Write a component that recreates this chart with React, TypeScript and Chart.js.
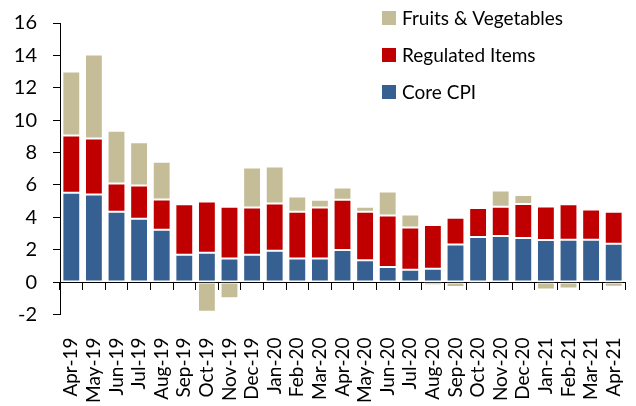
import React, { useEffect, useRef } from "react";
import { Chart, registerables } from "chart.js";

Chart.register(...registerables);

const categories = [
  "Apr-19", "May-19", "Jun-19", "Jul-19", "Aug-19", "Sep-19", "Oct-19", "Nov-19", "Dec-19",
  "Jan-20", "Feb-20", "Mar-20", "Apr-20", "May-20", "Jun-20", "Jul-20", "Aug-20", "Sep-20",
  "Oct-20", "Nov-20", "Dec-20", "Jan-21", "Feb-21", "Mar-21", "Apr-21",
];

const coreCPI = [5.52, 5.41, 4.35, 3.91, 3.23, 1.69, 1.81, 1.46, 1.69, 1.94, 1.46, 1.46, 1.98, 1.35, 0.93, 0.77, 0.83, 2.33, 2.78, 2.84, 2.72, 2.6, 2.62, 2.62, 2.37];
const regulatedItems = [3.54, 3.46, 1.74, 2.06, 1.87, 3.12, 3.17, 3.19, 2.92, 2.92, 2.89, 3.15, 3.1, 3.0, 3.18, 2.6, 2.69, 1.64, 1.8, 1.81, 2.11, 2.07, 2.19, 1.86, 1.97];
const fruitsVeg = [3.94, 5.18, 3.26, 2.67, 2.33, 0, -1.83, -1.0, 2.47, 2.28, 0.94, 0.48, 0.76, 0.3, 1.48, 0.8, -0.2, -0.3, -0.1, 1.0, 0.55, -0.45, -0.4, 0, -0.28];

const yTicks = [-2, 0, 2, 4, 6, 8, 10, 12, 14, 16];

const COLOR_CORE = "#376092";
const COLOR_REG = "#C00000";
const COLOR_FRUIT = "#C4BD97";

const FONT = "Lato, 'Liberation Sans', sans-serif";

const legendPlugin = {
  id: "customLegend",
  afterDraw(chart: any) {
    const ctx = chart.ctx;
    const items = [
      { label: "Fruits & Vegetables", color: COLOR_FRUIT },
      { label: "Regulated Items", color: COLOR_REG },
      { label: "Core CPI", color: COLOR_CORE },
    ];
    const x0 = 382;
    const y0 = 18;
    const gap = 37;
    ctx.save();
    ctx.font = `19px ${FONT}`;
    ctx.textBaseline = "middle";
    ctx.textAlign = "left";
    items.forEach((it, i) => {
      const cy = y0 + i * gap;
      ctx.fillStyle = it.color;
      ctx.fillRect(x0, cy - 7, 14, 14);
      ctx.fillStyle = "#000";
      ctx.fillText(it.label, x0 + 20, cy + 1);
    });
    ctx.restore();
  },
};

export default function App() {
  const ref = useRef<HTMLCanvasElement | null>(null);

  useEffect(() => {
    if (!ref.current) return;
    const bar = { categoryPercentage: 1, barPercentage: 0.79, borderColor: "rgba(255,255,255,0.7)", borderWidth: 1, borderSkipped: false };
    const chart = new Chart(ref.current, {
      type: "bar",
      data: {
        labels: categories,
        datasets: [
          { label: "Core CPI", data: coreCPI, backgroundColor: COLOR_CORE, ...bar },
          { label: "Regulated Items", data: regulatedItems, backgroundColor: COLOR_REG, ...bar },
          { label: "Fruits & Vegetables", data: fruitsVeg, backgroundColor: COLOR_FRUIT, ...bar },
        ],
      },
      options: {
        animation: false,
        responsive: true,
        maintainAspectRatio: false,
        layout: { padding: { top: 23, right: 11, bottom: 0, left: 0 } },
        plugins: { legend: { display: false }, tooltip: { enabled: false } },
        scales: {
          x: {
            type: "category",
            stacked: true,
            offset: true,
            grid: { display: false },
            border: { display: false },
            ticks: {
              autoSkip: false,
              maxRotation: 90,
              minRotation: 90,
              padding: 15,
              color: "#000",
              font: { family: FONT, size: 19 },
            },
            afterFit: (s: any) => { s.height = 91.5; s.paddingLeft = 0; s.paddingRight = 0; },
          },
          x2: {
            type: "category",
            position: { y: 0 } as any,
            offset: true,
            grid: { offset: true, drawOnChartArea: false, drawTicks: true, tickLength: 7, color: "#000", lineWidth: 1 },
            border: { display: true, color: "#000", width: 1 },
            ticks: { display: false },
            afterFit: (s: any) => { s.height = 0; s.paddingLeft = 0; s.paddingRight = 0; },
          },
          y: {
            stacked: true,
            min: -2,
            max: 16,
            afterBuildTicks: (s: any) => { s.ticks = yTicks.map((v) => ({ value: v })); },
            grid: { display: true, drawOnChartArea: false, drawTicks: true, tickLength: 7, color: "#000" },
            border: { display: true, color: "#000", width: 1 },
            ticks: { padding: 16, color: "#000", font: { family: FONT, size: 20 } },
            afterFit: (s: any) => { s.width = 60; s.paddingTop = 0; s.paddingBottom = 0; },
          },
        },
      },
      plugins: [legendPlugin],
    });
    return () => chart.destroy();
  }, []);

  return (
    <div style={{ position: "fixed", left: 0, top: 0, width: 636, height: 406, background: "#fff" }}>
      <canvas ref={ref} />
    </div>
  );
}
